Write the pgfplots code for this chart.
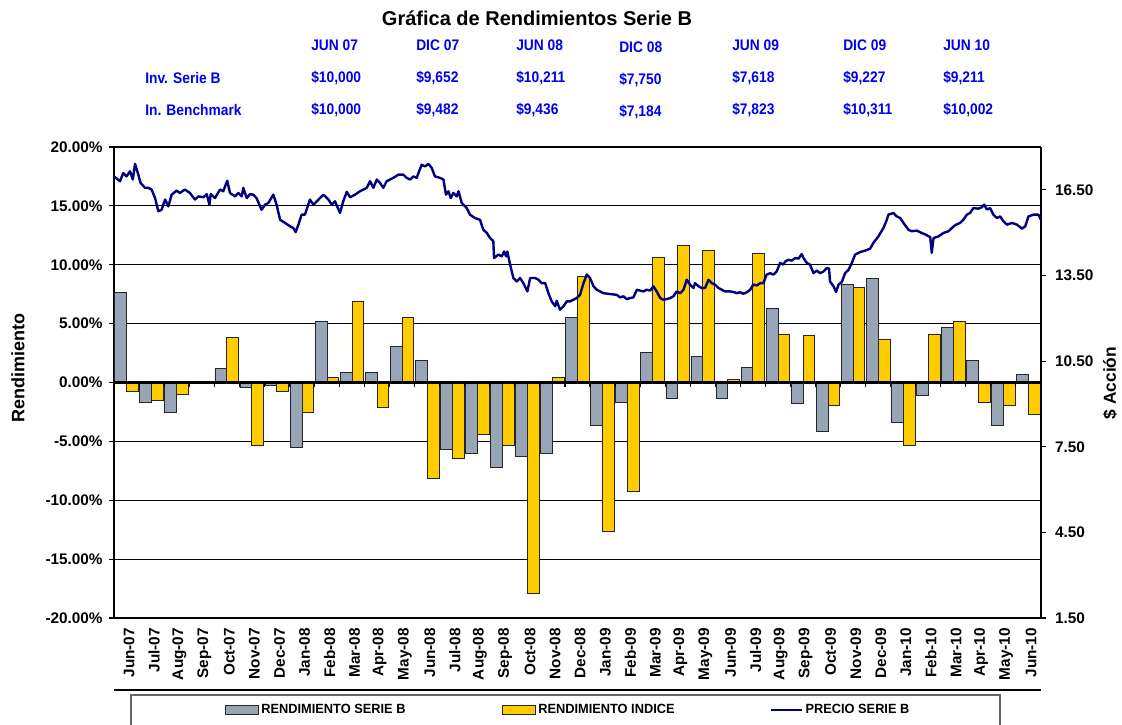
\documentclass[border=0pt]{standalone}
\usepackage{pgfplots}
\pgfplotsset{compat=1.18}
\usepackage{pgfplotstable}
\usepackage{fontspec}
\setmainfont{Liberation Sans}
\newfontfamily\narrowfont[FakeStretch=0.9]{Liberation Sans}
\newfontfamily\legfont[FakeStretch=0.96]{Liberation Sans}
\definecolor{graybar}{HTML}{97A5B7}
\definecolor{goldbar}{HTML}{FFCC00}
\definecolor{navyline}{HTML}{000080}
\definecolor{tblue}{HTML}{0000F0}
\pgfplotsset{
  barlegend/.style={legend image code/.code={\draw[##1] (0pt,-3.5pt) rectangle (25pt,3.5pt);}},
  linelegend/.style={legend image code/.code={\draw[##1] (0pt,0pt) -- (23pt,0pt);}},
}

\pgfplotstableread{
x g y
0 7.68 -0.75
1 -1.69 -1.55
2 -2.54 -0.98
3 0.10 -0.10
4 1.21 3.85
5 -0.41 -5.38
6 -0.27 -0.75
7 -5.52 -2.54
8 5.15 0.41
9 0.87 6.92
10 0.87 -2.11
11 3.08 5.55
12 1.89 -8.13
13 -5.69 -6.46
14 -6.03 -4.39
15 -7.22 -5.38
16 -6.29 -17.87
17 -6.03 0.44
18 5.49 9.01
19 -3.62 -12.62
20 -1.69 -9.21
21 2.54 10.66
22 -1.35 11.63
23 2.20 11.18
24 -1.35 0.24
25 1.29 10.97
26 6.26 4.07
27 -1.75 3.96
28 -4.16 -1.97
29 8.33 8.11
30 8.87 3.70
31 -3.39 -5.38
32 -1.06 4.07
33 4.70 5.15
34 1.89 -1.69
35 -3.62 -1.97
36 0.67 -2.68
}\bardata

\pgfplotstableread{
x p
-0.50 16.97
-0.26 16.80
-0.13 17.09
0.00 16.97
0.14 17.15
0.25 16.86
0.34 17.41
0.47 17.03
0.56 16.74
0.74 16.57
0.87 16.57
1.00 16.51
1.14 16.21
1.27 15.75
1.40 15.80
1.54 16.16
1.67 15.92
1.80 16.33
2.00 16.47
2.13 16.39
2.33 16.51
2.53 16.39
2.73 16.16
2.87 16.27
3.07 16.24
3.20 16.35
3.31 15.98
3.36 16.35
3.53 16.21
3.73 16.51
3.86 16.45
4.02 16.82
4.13 16.39
4.33 16.27
4.46 16.39
4.60 16.27
4.66 16.57
4.80 16.21
4.93 16.35
5.06 16.33
5.19 16.21
5.39 15.80
5.53 15.98
5.66 16.04
5.86 16.33
5.99 15.98
6.13 15.45
6.33 15.34
6.53 15.22
6.66 15.16
6.75 15.02
6.86 15.28
6.99 15.63
7.12 15.63
7.32 16.16
7.46 15.98
7.72 16.21
7.86 16.33
8.06 16.16
8.19 15.98
8.32 16.10
8.52 15.69
8.65 16.10
8.79 16.43
8.92 16.24
9.12 16.33
9.32 16.45
9.59 16.57
9.72 16.80
9.85 16.57
9.99 16.86
10.12 16.74
10.25 16.57
10.38 16.80
10.65 16.92
10.85 17.03
11.05 17.03
11.18 16.92
11.32 16.86
11.45 16.97
11.58 16.92
11.78 17.38
11.92 17.32
12.05 17.41
12.18 17.27
12.31 16.97
12.51 16.92
12.65 16.86
12.75 16.33
12.85 16.45
12.94 16.21
13.05 16.39
13.18 16.27
13.25 16.45
13.38 16.04
13.58 15.86
13.71 15.63
13.91 15.51
14.11 15.45
14.24 15.10
14.38 14.99
14.51 14.81
14.64 14.70
14.67 14.11
14.84 14.23
14.98 14.17
15.07 14.34
15.15 14.17
15.20 14.34
15.31 13.88
15.44 13.41
15.58 13.29
15.71 13.41
15.84 13.23
16.00 12.94
16.11 13.41
16.31 13.41
16.44 13.35
16.57 13.23
16.71 13.23
16.84 12.88
16.97 12.59
17.11 12.42
17.17 12.61
17.30 12.30
17.44 12.42
17.57 12.59
17.70 12.59
17.84 12.65
17.97 12.71
18.10 12.82
18.24 13.23
18.37 13.53
18.50 13.41
18.64 13.12
18.77 13.00
18.90 12.94
19.03 12.88
19.30 12.85
19.57 12.82
19.70 12.73
19.83 12.77
19.97 12.67
20.10 12.71
20.23 12.73
20.37 13.00
20.50 12.97
20.63 12.94
20.76 13.00
20.90 12.97
21.03 13.12
21.16 12.94
21.30 12.71
21.43 12.65
21.56 12.67
21.70 12.71
21.83 12.77
21.96 12.94
22.10 12.88
22.23 13.00
22.36 13.35
22.49 13.18
22.63 13.06
22.69 13.23
22.83 13.12
22.96 13.06
23.09 13.06
23.23 13.35
23.36 13.23
23.49 13.18
23.63 13.06
23.76 13.00
23.89 12.94
24.09 12.94
24.22 12.92
24.36 12.88
24.49 12.91
24.62 12.86
24.76 12.91
24.89 13.00
25.02 13.18
25.16 13.15
25.29 13.23
25.42 13.23
25.55 13.53
25.69 13.58
25.82 13.53
25.95 13.64
26.09 13.94
26.22 13.88
26.29 13.99
26.42 14.05
26.55 14.02
26.69 14.11
26.82 14.09
26.95 14.25
27.02 14.11
27.15 13.94
27.28 13.88
27.42 13.58
27.55 13.67
27.68 13.58
27.82 13.64
27.95 13.76
28.04 13.74
28.08 13.29
28.22 13.12
28.32 12.92
28.42 13.18
28.55 13.27
28.68 13.58
28.82 13.70
28.95 13.94
29.08 14.23
29.28 14.32
29.48 14.37
29.68 14.44
29.81 14.64
30.01 14.87
30.21 15.16
30.35 15.46
30.41 15.63
30.61 15.69
30.74 15.57
30.88 15.51
31.01 15.34
31.21 15.10
31.34 15.05
31.54 15.07
31.74 14.99
31.94 14.91
32.08 14.84
32.14 14.29
32.21 14.81
32.41 14.87
32.61 14.99
32.81 15.05
32.94 15.16
33.07 15.26
33.27 15.34
33.41 15.46
33.54 15.63
33.67 15.69
33.80 15.86
34.00 15.84
34.14 15.89
34.23 15.98
34.34 15.81
34.47 15.86
34.60 15.63
34.74 15.51
34.87 15.57
35.00 15.40
35.14 15.28
35.34 15.34
35.54 15.28
35.74 15.14
35.87 15.22
36.00 15.57
36.20 15.63
36.40 15.63
36.49 15.46
}\pricedata

\begin{document}
\begin{tikzpicture}
\path[use as bounding box] (0pt,0pt) rectangle (841.5pt,-543.75pt);

\begin{axis}[
  at={(85.5pt,-463.5pt)}, anchor=south west,
  scale only axis, width=695.25pt, height=353.25pt,
  xmin=-0.5, xmax=36.5, ymin=-20, ymax=20,
  axis y line*=left, axis x line*=bottom,
  x axis line style={draw=none},
  y axis line style={-, black, line width=1.5pt},
  ytick={-20,-15,...,20},
  yticklabels={-20.00\%,-15.00\%,-10.00\%,-5.00\%,0.00\%,5.00\%,10.00\%,15.00\%,20.00\%},
  ymajorgrids, grid style={black, line width=0.8pt},
  tick align=outside, major tick length=4pt,
  ytick style={black, line width=0.8pt},
  yticklabel style={font=\bfseries\fontsize{11.5}{13}\selectfont, xshift=-1pt},
  xtick={0,...,36},
  xticklabels={Jun-07,Jul-07,Aug-07,Sep-07,Oct-07,Nov-07,Dec-07,Jan-08,Feb-08,Mar-08,Apr-08,May-08,Jun-08,Jul-08,Aug-08,Sep-08,Oct-08,Nov-08,Dec-08,Jan-09,Feb-09,Mar-09,Apr-09,May-09,Jun-09,Jul-09,Aug-09,Sep-09,Oct-09,Nov-09,Dec-09,Jan-10,Feb-10,Mar-10,Apr-10,May-10,Jun-10},
  xtick style={draw=none},
  xticklabel style={rotate=90, anchor=east, font=\bfseries\fontsize{11.5}{13}\selectfont, yshift=-2pt},
  legend columns=3,
  legend style={at={(0.119,-0.195)}, anchor=west, draw=none, fill=none, inner sep=0pt,
    font=\legfont\bfseries\fontsize{10}{12}\selectfont,
    /tikz/every even column/.append style={column sep=70pt}},
]
\addplot[ybar, bar width=0.47, bar shift=-0.235, draw=black!85, line width=0.6pt,
  fill=graybar, barlegend]
  table[x=x,y=g]{\bardata};
\addlegendentry{RENDIMIENTO SERIE B}
\addplot[ybar, bar width=0.47, bar shift=0.235, draw=black!85, line width=0.6pt,
  fill=goldbar, barlegend]
  table[x=x,y=y]{\bardata};
\addlegendentry{RENDIMIENTO INDICE}
\addlegendimage{navyline, line width=1.2pt, linelegend}
\addlegendentry{PRECIO SERIE B}
\draw[black, line width=1.6pt] (axis cs:-0.5,0) -- (axis cs:36.5,0);
\pgfplotsinvokeforeach{0.5,1.5,...,35.5}{\draw[black, line width=0.8pt] (axis cs:#1,0) -- ++(0pt,-3.5pt);}
\end{axis}

\begin{axis}[
  at={(85.5pt,-463.5pt)}, anchor=south west,
  scale only axis, width=695.25pt, height=353.25pt,
  xmin=-0.5, xmax=36.5, ymin=1.5, ymax=18,
  axis y line*=right, axis x line=none,
  y axis line style={-, black, line width=1.5pt},
  xtick=\empty,
  ytick={1.5,4.5,7.5,10.5,13.5,16.5},
  yticklabels={1.50,4.50,7.50,10.50,13.50,16.50},
  tick align=outside, major tick length=4pt,
  ytick style={black, line width=0.8pt},
  yticklabel style={font=\bfseries\fontsize{11.5}{13}\selectfont, xshift=3pt},
]
\addplot[navyline, line width=1.8pt, line join=round] table[x=x,y=p]{\pricedata};
\end{axis}

\begin{scope}[x=0.75pt,y=-0.75pt]
\draw[black, line width=2.2pt] (114,690) -- (1041,690);
\draw[black!60, line width=0.8pt] (131,695) rectangle (1000,745);
\node[font=\bfseries\fontsize{15}{17}\selectfont] at (537,18) {Gráfica de Rendimientos Serie B};
\node[rotate=90, font=\bfseries\fontsize{13.5}{15}\selectfont] at (18,368) {Rendimiento};
\node[rotate=90, font=\bfseries\fontsize{13}{15}\selectfont] at (1110,383) {\$ Acción};
\begin{scope}[every node/.style={anchor=west, inner sep=0pt, text=tblue, font=\narrowfont\bfseries\fontsize{11.5}{13}\selectfont}]
\node at (311,45) {JUN 07};
\node at (416,45) {DIC 07};
\node at (516,45) {JUN 08};
\node at (619,47) {DIC 08};
\node at (732,45) {JUN 09};
\node at (843,45) {DIC 09};
\node at (943,45) {JUN 10};
\node at (145,78) {Inv. Serie B};
\node at (311,78) {\$10,000};
\node at (416,78) {\$9,652};
\node at (516,78) {\$10,211};
\node at (619,80) {\$7,750};
\node at (732,78) {\$7,618};
\node at (843,78) {\$9,227};
\node at (943,78) {\$9,211};
\node at (145,110) {In. Benchmark};
\node at (311,110) {\$10,000};
\node at (416,110) {\$9,482};
\node at (516,110) {\$9,436};
\node at (619,112) {\$7,184};
\node at (732,110) {\$7,823};
\node at (843,110) {\$10,311};
\node at (943,110) {\$10,002};
\end{scope}
\end{scope}
\end{tikzpicture}
\end{document}
